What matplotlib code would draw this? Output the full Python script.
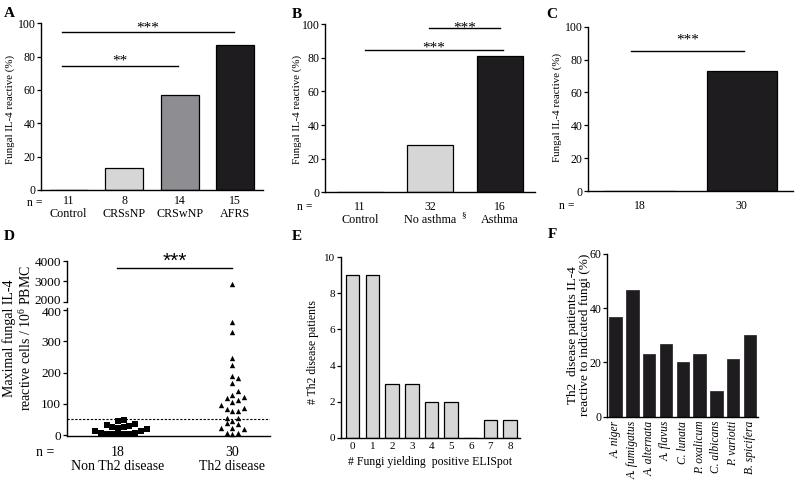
import numpy as np
import matplotlib
matplotlib.use('Agg')
import matplotlib.pyplot as plt
import matplotlib.transforms as mtrans

plt.rcParams['font.family'] = ['Liberation Serif', 'DejaVu Serif']
plt.rcParams['mathtext.fontset'] = 'custom'
plt.rcParams['mathtext.rm'] = 'Liberation Serif'
plt.rcParams['mathtext.it'] = 'Liberation Serif:italic'

# ---------------- data ----------------
a_groups = ['Control', 'CRSsNP', 'CRSwNP', 'AFRS']
a_n = ['11', '8', '14', '15']
a_values = [0, 13, 57, 87]
a_colors = ['#d6d6d6', '#d6d6d6', '#8e8e92', '#1e1c1e']

b_groups = ['Control', 'No asthma', 'Asthma']
b_n = ['11', '32', '16']
b_values = [0, 28, 81]
b_colors = ['#d6d6d6', '#d6d6d6', '#1e1c1e']

c_n = ['18', '30']
c_values = [0, 73]

d_groups = ['Non Th2 disease', 'Th2 disease']
d_n = ['18', '30']
d_non_th2 = [14, 6, 3, 3, 3, 3, 3, 6, 14, 19, 36, 26, 26, 22, 30, 33, 46, 49]
d_th2 = [2850, 360, 330, 247, 224, 188, 181, 165, 142, 118, 128, 105, 112, 121,
         87, 78, 78, 82, 95, 45, 53, 55, 37, 35, 22, 24, 20, 7, 3, 8]
d_threshold = 50

e_counts = ['0', '1', '2', '3', '4', '5', '6', '7', '8']
e_values = [9, 9, 3, 3, 2, 2, 0, 1, 1]

f_fungi = ['A. niger', 'A. fumigatus', 'A. alternata', 'A. flavus', 'C. lunata',
           'P. oxalicum', 'C. albicans', 'P. variotti', 'B. spicifera']
f_values = [36.7, 46.7, 23.3, 26.7, 20.0, 23.3, 9.3, 21.1, 30.0]

# ---------------- figure ----------------
W, H = 800, 492
fig = plt.figure(figsize=(W / 100, H / 100), dpi=100)


def axes_px(l, r, t, b):
    return fig.add_axes([l / W, 1 - b / H, (r - l) / W, (b - t) / H])


def ftext(x, y, s, **kw):
    fig.text(x / W, 1 - y / H, s, **kw)


def style(ax, fs):
    for s in ['top', 'right']:
        ax.spines[s].set_visible(False)
    for s in ['left', 'bottom']:
        ax.spines[s].set_linewidth(1.0)
    ax.tick_params(axis='y', direction='out', length=3, width=0.9, labelsize=fs, pad=1)
    ax.tick_params(axis='x', length=0, labelsize=fs)


def below(ax, x, s, dy, fs, **kw):
    ax.annotate(s, xy=(x, 0), xycoords=('data', 'axes fraction'),
                xytext=(0, -dy), textcoords='offset pixels',
                ha='center', va='center', fontsize=fs, annotation_clip=False, **kw)


def sig(ax, x0, x1, y, stars, dy, fs=11, family=None):
    ax.plot([x0, x1], [y, y], color='black', lw=1.0, clip_on=False)
    kw = {}
    if family:
        kw['family'] = family
    ax.annotate(stars, xy=((x0 + x1) / 2, y), xytext=(0, dy),
                textcoords='offset pixels', ha='center', va='baseline',
                fontsize=fs, annotation_clip=False, **kw)


# ---------- Panel A ----------
axA = axes_px(41, 263, 23.3, 190)
style(axA, 8.5)
xa = np.arange(len(a_groups))
axA.bar(xa, a_values, width=0.68, color=a_colors, edgecolor='black', linewidth=0.9)
axA.set_xlim(-0.5, 3.5)
axA.set_ylim(0, 100)
axA.set_yticks([0, 20, 40, 60, 80, 100])
axA.set_xticks([])
for i in range(len(a_groups)):
    below(axA, xa[i], a_n[i], 11, 8.5)
    below(axA, xa[i], a_groups[i], 24, 8.7)
sig(axA, -0.13, 2.98, 94.6, '***', 1)
sig(axA, -0.13, 1.97, 74.4, '**', 1)
ftext(35, 203, 'n =', ha='center', va='center', fontsize=8.5)
ftext(10, 110, 'Fungal IL-4 reactive (%)', rotation=90, ha='center', va='center', fontsize=7.8)
ftext(9, 13.5, 'A', ha='center', va='center', fontsize=11, weight='bold')

# ---------- Panel B ----------
axB = axes_px(325, 535, 24.3, 192.3)
style(axB, 8.5)
xb = np.arange(len(b_groups))
axB.bar(xb, b_values, width=0.67, color=b_colors, edgecolor='black', linewidth=0.9)
axB.set_xlim(-0.5, 2.5)
axB.set_ylim(0, 100)
axB.set_yticks([0, 20, 40, 60, 80, 100])
axB.set_xticks([])
for i in range(len(b_groups)):
    below(axB, xb[i], b_n[i], 15, 8.5)
    below(axB, xb[i], b_groups[i], 28, 8.7)
axB.annotate('§', xy=(1, 0), xycoords=('data', 'axes fraction'), xytext=(34, -23),
             textcoords='offset pixels', ha='center', va='center', fontsize=6.5,
             annotation_clip=False)
sig(axB, 0.99, 2.0, 97.6, '***', -3)
sig(axB, 0.07, 2.04, 84.7, '***', -2)
ftext(305, 207, 'n =', ha='center', va='center', fontsize=8.5)
ftext(297, 110, 'Fungal IL-4 reactive (%)', rotation=90, ha='center', va='center', fontsize=7.8)
ftext(297, 14, 'B', ha='center', va='center', fontsize=11, weight='bold')

# ---------- Panel C ----------
axC = axes_px(588.3, 793, 26.7, 191)
style(axC, 8.5)
xc = np.arange(len(c_n))
axC.bar(xc, c_values, width=0.69, color=['#d6d6d6', '#1e1c1e'], edgecolor='black', linewidth=0.9)
axC.set_xlim(-0.5, 1.5)
axC.set_ylim(0, 100)
axC.set_yticks([0, 20, 40, 60, 80, 100])
axC.set_xticks([])
for i in range(len(c_n)):
    below(axC, xc[i], c_n[i], 15, 8.5)
sig(axC, -0.08, 1.02, 85.2, '***', 7)
ftext(567, 205.7, 'n =', ha='center', va='center', fontsize=8.5)
ftext(557, 108, 'Fungal IL-4 reactive (%)', rotation=90, ha='center', va='center', fontsize=7.8)
ftext(552, 14, 'C', ha='center', va='center', fontsize=11, weight='bold')

# ---------- Panel D ----------
d_left, d_right = 66.7, 270
lo_top, lo_bot = 308.4, 436
up_top, up_bot = 261, 302
axD = axes_px(d_left, d_right, lo_top, lo_bot)
axD2 = axes_px(d_left, d_right, up_top, up_bot)
d_xlim = (-0.45, 1.33)
d_ylim = (-3, 405)
for ax in (axD, axD2):
    style(ax, 9.5)
    ax.set_xlim(*d_xlim)
axD.set_ylim(*d_ylim)
axD2.set_ylim(1990, 4000)
axD.set_yticks([0, 100, 200, 300, 400])
axD2.set_yticks([2000, 3000, 4000])
axD2.spines['bottom'].set_visible(False)
axD.set_xticks([])
axD2.set_xticks([])
fig.canvas.draw()
for lab in axD2.get_yticklabels():
    if lab.get_text() == '2000':
        lab.set_transform(lab.get_transform() + mtrans.Affine2D().translate(0, 2))
for lab in axD.get_yticklabels():
    if lab.get_text() == '400':
        lab.set_transform(lab.get_transform() + mtrans.Affine2D().translate(0, -2))

ypx_per_unit = (lo_bot - lo_top) / (d_ylim[1] - d_ylim[0])
xpx_per_unit = (d_right - d_left) / (d_xlim[1] - d_xlim[0])


def swarm(values, dpx=5.7):
    vals = np.asarray(values, float)
    order = np.argsort(vals, kind='stable')
    placed = []
    offs = np.zeros(len(vals))
    cands = [0.0]
    for j in range(1, 25):
        cands += [j * dpx, -j * dpx]
    for i in order:
        y = vals[i] * ypx_per_unit
        for c in cands:
            if all((c - px) ** 2 + (y - py) ** 2 >= 0.95 * dpx ** 2 for px, py in placed):
                break
        placed.append((c, y))
        offs[i] = c / xpx_per_unit
    return offs


for gi, (vals, mk) in enumerate([(d_non_th2, 's'), (d_th2, '^')]):
    vals = np.asarray(vals, float)
    xs = gi + swarm(vals)
    lo = vals < 2000
    axD.scatter(xs[lo], vals[lo], marker=mk, s=13 if mk == 's' else 15,
                color='black', linewidths=0, clip_on=False, zorder=3)
    axD2.scatter(xs[~lo], vals[~lo], marker=mk, s=15, color='black',
                 linewidths=0, clip_on=False, zorder=3)

axD.axhline(d_threshold, color='black', lw=0.8, ls=(0, (2, 1.5)))
for i in range(len(d_groups)):
    below(axD, i, d_n[i], 16, 10)
    below(axD, i, d_groups[i], 30, 10)
sig(axD2, -0.01, 1.0, 3644, '***', 1, fs=15, family='Liberation Sans')
ftext(45, 452, 'n =', ha='center', va='center', fontsize=10)
ftext(9, 338, 'Maximal fungal IL-4', rotation=90, ha='center', va='center', fontsize=10)
ftext(26, 338, 'reactive cells / 10$^6$ PBMC', rotation=90, ha='center', va='center', fontsize=10)
ftext(9, 237, 'D', ha='center', va='center', fontsize=11, weight='bold')

# ---------- Panel E ----------
axE = axes_px(341, 520, 257.3, 437.7)
style(axE, 8)
xe = np.arange(len(e_counts))
axE.bar(xe, e_values, width=0.68, color='#d6d6d6', edgecolor='black', linewidth=0.9)
axE.set_xlim(-0.6, 8.5)
axE.set_ylim(0, 10)
axE.set_yticks([0, 2, 4, 6, 8, 10])
axE.set_xticks(xe)
axE.set_xticklabels(e_counts)
axE.tick_params(axis='x', pad=3)
axE.set_xlabel('# Fungi yielding  positive ELISpot', fontsize=8.5, labelpad=4)
ftext(313, 352, '# Th2 disease patients', rotation=90, ha='center', va='center', fontsize=8.5)
ftext(297, 237, 'E', ha='center', va='center', fontsize=11, weight='bold')

# ---------- Panel F ----------
axF = axes_px(607.3, 758.3, 254, 416.7)
style(axF, 8.5)
xf = np.arange(len(f_fungi))
axF.bar(xf, f_values, width=0.74, color='#1e1c1e', edgecolor='#1e1c1e', linewidth=0.5)
axF.set_xlim(-0.5, 8.5)
axF.set_ylim(0, 60)
axF.set_yticks([0, 20, 40, 60])
axF.set_xticks(xf)
axF.set_xticklabels(f_fungi, rotation=90, style='italic', fontsize=8.3)
axF.tick_params(axis='x', pad=3)
ftext(573, 335, 'Th2  disease patients IL-4', rotation=90, ha='center', va='center', fontsize=9.5)
ftext(585, 335, 'reactive to indicated fungi (%)', rotation=90, ha='center', va='center', fontsize=9.5)
ftext(552, 235, 'F', ha='center', va='center', fontsize=11, weight='bold')

fig.savefig('out.png', dpi=100)
